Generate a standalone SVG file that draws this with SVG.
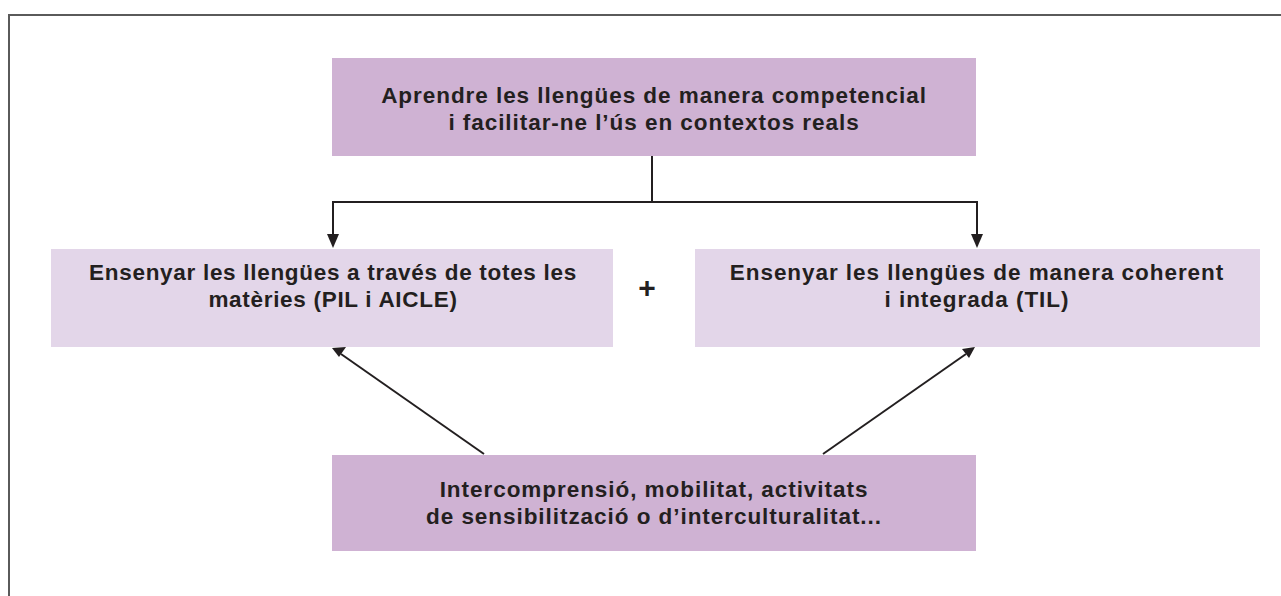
<svg xmlns="http://www.w3.org/2000/svg" width="1281" height="596" viewBox="0 0 1281 596">
<defs>
<style>
.frame{fill:none;stroke:#5a5a5a;stroke-width:2}
.dark{fill:#cfb2d3}
.light{fill:#e3d6e9}
.t{font-family:"Liberation Sans",Arial,sans-serif;font-weight:bold;font-size:22.5px;fill:#231f20;text-anchor:middle;letter-spacing:0.9px}
.c{fill:none;stroke:#231f20;stroke-width:2}
</style>
</defs>
<rect width="1281" height="596" fill="#ffffff"/>
<path class="frame" d="M9,600 L9,15 L1290,15"/>
<g id="connectors">
<path class="c" d="M652,156 L652,202 M333,202 L977,202"/>
<path class="c" d="M333,201 L333,237"/>
<polygon points="327,234 339,234 333,248" fill="#231f20"/>
<path class="c" d="M977,201 L977,237"/>
<polygon points="971,234 983,234 977,248" fill="#231f20"/>
<path class="c" d="M484,454 L341,354"/>
<polygon points="332,348 346,347 339,357" fill="#231f20"/>
<path class="c" d="M823,454 L966,354"/>
<polygon points="975,347 969,358 962,349" fill="#231f20"/>
</g>
<g id="node-top">
<rect class="dark" x="332" y="58" width="644" height="98"/>
<text class="t" x="654" y="103" style="letter-spacing:0.95px">Aprendre les llengües de manera competencial</text>
<text class="t" x="654" y="130" style="letter-spacing:0.95px">i facilitar-ne l’ús en contextos reals</text>
</g>
<g id="node-left">
<rect class="light" x="51" y="249" width="562" height="98"/>
<text class="t" x="333" y="280" style="letter-spacing:0.7px">Ensenyar les llengües a través de totes les</text>
<text class="t" x="333" y="307" style="letter-spacing:0.7px">matèries (PIL i AICLE)</text>
</g>
<g id="node-plus">
<text class="t" x="647" y="298" style="font-size:30px;letter-spacing:0">+</text>
</g>
<g id="node-right">
<rect class="light" x="695" y="249" width="565" height="98"/>
<text class="t" x="977" y="280" style="letter-spacing:0.95px">Ensenyar les llengües de manera coherent</text>
<text class="t" x="977" y="307" style="letter-spacing:0.95px">i integrada (TIL)</text>
</g>
<g id="node-bottom">
<rect class="dark" x="332" y="455" width="644" height="96"/>
<text class="t" x="654" y="497" style="letter-spacing:0.95px">Intercomprensió, mobilitat, activitats</text>
<text class="t" x="654" y="524" style="letter-spacing:0.95px">de sensibilització o d’interculturalitat...</text>
</g>
</svg>
